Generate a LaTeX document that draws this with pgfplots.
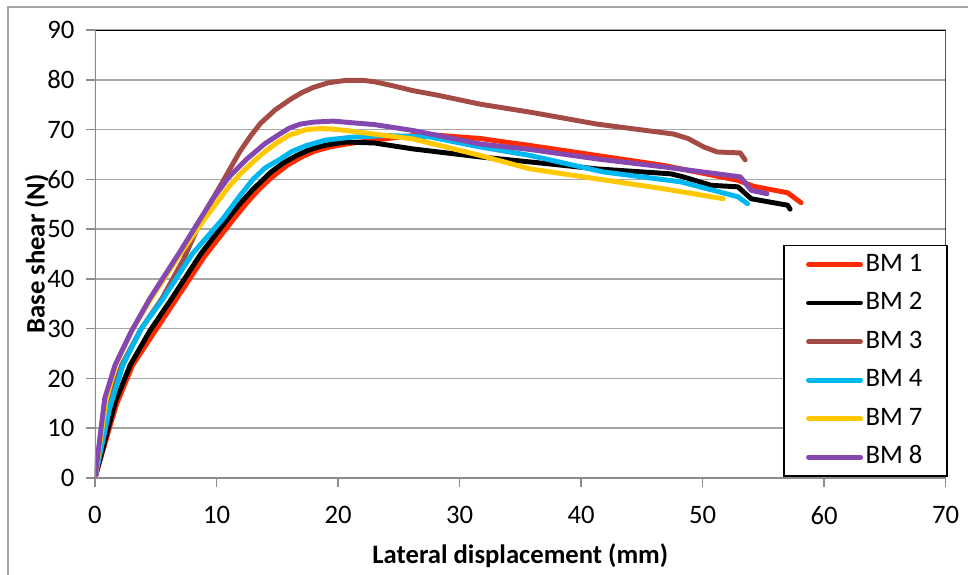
\documentclass[border=0pt]{standalone}
\usepackage{pgfplots}
\pgfplotsset{compat=1.18}
\usepackage{fontspec}
\setmainfont{Carlito}
\definecolor{cBMa}{HTML}{FF2A00}
\definecolor{cBMb}{HTML}{000000}
\definecolor{cBMc}{HTML}{A44B45}
\definecolor{cBMd}{HTML}{00B8F0}
\definecolor{cBMe}{HTML}{FFC800}
\definecolor{cBMf}{HTML}{8448B0}
\definecolor{gridgray}{HTML}{A6A6A6}
\definecolor{axgray}{HTML}{8C8C8C}
\begin{document}
\begin{tikzpicture}
\begin{axis}[
  at={(0pt,0pt)}, anchor=south west,
  scale only axis, width=638pt, height=336pt,
  xmin=0, xmax=70, ymin=0, ymax=90,
  xtick={0,10,...,70}, ytick={0,10,...,90},
  axis line style={draw=none},
  ymajorgrids, grid style={gridgray, line width=1.1pt},
  tick align=outside, major tick length=6.5pt,
  tick style={axgray, line width=1.1pt},
  xtick pos=bottom, ytick pos=left,
  /pgf/number format/assume math mode=true,
  tick label style={font=\fontsize{20}{24}\selectfont},
  xticklabel style={yshift=-11pt},
  yticklabel style={xshift=-5.5pt},
  xlabel={\textbf{Lateral displacement (mm)}},
  ylabel={\textbf{Base shear (N)}},
  label style={font=\fontsize{20}{24}\selectfont},
  xlabel style={yshift=-7.5pt},
  ylabel style={yshift=-8pt},
  every axis plot/.append style={line width=3.7pt, line join=round, line cap=round},
  legend style={at={(rel axis cs:1.0027,0.0022)}, anchor=south east,
    draw=black, line width=1.2pt, font=\fontsize{20}{24}\selectfont,
    nodes={inner sep=2pt, text height=14pt, text depth=4pt},
    inner xsep=16.5pt, inner ysep=3.3pt, row sep=6.9pt, column sep=0pt},
  legend cell align=left,
  legend image code/.code={\draw[#1, line width=3.7pt, line cap=round] (0,0) -- (39pt,0);},
]
\addplot[cBMa] coordinates {(0,0)(1.3,11)(1.8,15)(3.1,22.7)(4.8,29)(6.7,36)(9,44.5)(11.4,52)(12.5,55.3)(13.5,58)(14.5,60.3)(15.8,62.8)(17,64.5)(18,65.6)(19.3,66.5)(20.7,67.1)(23,67.9)(26.2,68.8)(28,68.9)(31.7,68.2)(35.8,66.8)(41.3,64.8)(46.8,62.8)(52.9,59.8)(54.2,58.6)(57,57.3)(58.1,55.3)};
\addlegendentry{BM 1}
\addplot[cBMb] coordinates {(0,0)(1.2,11)(1.7,15.5)(2.9,22.7)(4.5,29.5)(6.3,36)(8.7,45)(10.9,52)(12,55.3)(13,58)(14.5,61.5)(15.5,63.3)(16.6,64.8)(17.5,65.8)(18.5,66.6)(19.5,67.1)(20.7,67.5)(23,67.3)(26.2,66.1)(31.7,64.5)(35.8,63.5)(41.3,62.1)(47.4,61.1)(48.4,60.5)(50.7,58.8)(52.9,58.5)(54,56.1)(57,54.8)(57.2,54)};
\addlegendentry{BM 2}
\addplot[cBMc] coordinates {(0,0)(1,14)(2.2,22.7)(3.8,30)(5.5,36)(7.3,44)(8.9,52.7)(10.5,59.5)(11.9,65.5)(12.8,68.7)(13.6,71.2)(14.8,73.9)(16.1,76.1)(17,77.4)(18,78.5)(19.2,79.4)(20.7,79.9)(22,79.9)(23,79.6)(24.5,78.8)(26.2,77.8)(28,77)(31.7,75.1)(35.8,73.5)(41.3,71.1)(47.6,69.1)(48.8,68.2)(50.1,66.5)(51.2,65.5)(53.1,65.3)(53.5,63.9)};
\addlegendentry{BM 3}
\addplot[cBMd] coordinates {(0,0)(1.2,14)(2.3,22.7)(3.8,30)(5.6,36)(8,45)(10.5,52)(11.8,56.3)(13,60)(14,62.3)(15.2,64)(16.2,65.6)(17.4,66.8)(19,67.9)(21.3,68.5)(24,68.8)(27.6,68.5)(31.7,66.5)(35.8,64.8)(41.8,61.5)(48.2,59.5)(52.9,56.5)(53.7,55.1)};
\addlegendentry{BM 4}
\addplot[cBMe] coordinates {(0,0)(0.9,15.5)(1.7,22.7)(3,29.5)(4.6,36)(7,45)(9,52)(11,58.5)(12,61.2)(13,63.5)(14,65.6)(15,67.4)(16,68.9)(17.4,70)(18.5,70.2)(19.5,70.1)(20.7,69.8)(26.2,68.1)(31.7,64.8)(35.8,62.1)(41.3,60.1)(46.8,58.1)(51.7,56.1)};
\addlegendentry{BM 7}
\addplot[cBMf] coordinates {(0,0)(0.8,16)(1.65,22.7)(3,29.5)(4.5,36)(7,45.5)(9.7,56.1)(11,60.4)(12.5,64.1)(14,67.2)(15.2,69.1)(16,70.3)(16.9,71.1)(18,71.5)(19.6,71.7)(21,71.4)(23,71)(26.2,69.8)(31.7,67.1)(35.8,66)(41.3,64.1)(46.8,62.5)(53.1,60.5)(54,57.8)(55.3,57.1)};
\addlegendentry{BM 8}
\draw[black, line width=1.5pt] (rel axis cs:0,1) -- (rel axis cs:1,1) -- (rel axis cs:1,0);
\draw[axgray, line width=1.3pt] (rel axis cs:0,1) -- (rel axis cs:0,0) -- (rel axis cs:1,0);
\end{axis}
\draw[gridgray, line width=1.2pt] (-65.25pt,-80pt) -- (-65.25pt,353.25pt) -- (660pt,353.25pt);
\pgfresetboundingbox
\path[use as bounding box] (-71.25pt,-72.75pt) rectangle (654.75pt,358.5pt);
\end{tikzpicture}
\end{document}
